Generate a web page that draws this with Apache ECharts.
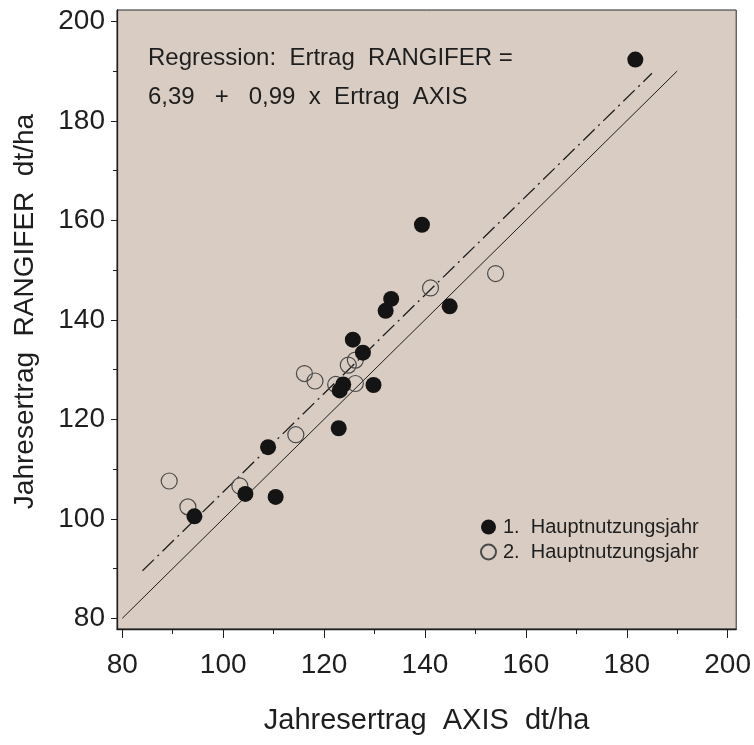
<!DOCTYPE html>
<html><head><meta charset="utf-8">
<script src="https://cdn.jsdelivr.net/npm/echarts@6/dist/echarts.min.js"></script>
<style>html,body{margin:0;padding:0;background:#fff}#c{width:754px;height:745px}</style>
</head><body><div id="c"></div>
<script>
// Data
const xTicks = [80, 100, 120, 140, 160, 180, 200];
const yTicks = [80, 100, 120, 140, 160, 180, 200];
const xMinor = [90, 110, 130, 150, 170, 190];
const yMinor = [90, 110, 130, 150, 170, 190];
const year1X = [181.7, 139.4, 133.3, 132.2, 125.7, 127.7, 144.9, 123.8, 123.1, 129.8, 122.9, 108.9, 104.4, 110.4, 94.3];
const year1Y = [192.3, 159.1, 144.2, 141.8, 136.0, 133.4, 142.7, 127.0, 125.8, 126.9, 118.2, 114.4, 105.0, 104.4, 100.5];
const year2X = [154.0, 141.1, 126.2, 124.8, 116.1, 118.2, 122.3, 126.2, 114.4, 89.3, 93.0, 103.3];
const year2Y = [149.3, 146.4, 131.9, 130.9, 129.2, 127.7, 127.0, 127.2, 116.9, 107.6, 102.4, 106.6];
const identityX = [80, 190];
const regIntercept = 6.39, regSlope = 0.99;
const regX = [84, 185];
const seriesNames = ['1.  Hauptnutzungsjahr', '2.  Hauptnutzungsjahr'];
const xTitle = 'Jahresertrag  AXIS  dt/ha';
const yTitle = 'Jahresertrag  RANGIFER  dt/ha';
const note1 = 'Regression:  Ertrag  RANGIFER =';
const note2 = '6,39   +   0,99  x  Ertrag  AXIS';

const FONT = '"Liberation Sans", Arial, sans-serif';
const INK = '#1e1e1e';
const xr = [78.95, 201.7], yr = [77.85, 202.27];

const pairs = (xs, ys) => xs.map((x, i) => [x, ys[i]]);
const chart = echarts.init(document.getElementById('c'), null, {renderer: 'canvas'});

function xAxisBase(extra) {
  return Object.assign({
    type: 'value', min: xr[0], max: xr[1], gridIndex: 0, position: 'bottom',
    splitLine: {show: false},
    axisLine: {show: true, lineStyle: {color: INK, width: 1.3}},
  }, extra);
}
function yAxisBase(extra) {
  return Object.assign({
    type: 'value', min: yr[0], max: yr[1], gridIndex: 0, position: 'left',
    splitLine: {show: false},
    axisLine: {show: true, lineStyle: {color: INK, width: 1.3}},
  }, extra);
}

chart.setOption({
  animation: false,
  backgroundColor: '#ffffff',
  textStyle: {fontFamily: FONT},
  grid: {left: 117, right: 17, top: 10, bottom: 116, show: true,
         backgroundColor: '#d9cdc3', borderColor: '#2a2a2a', borderWidth: 1},
  xAxis: [
    xAxisBase({
      name: xTitle, nameLocation: 'middle', nameGap: 77,
      nameTextStyle: {fontSize: 29, color: INK, fontFamily: FONT},
      axisTick: {show: true, inside: false, length: 9, customValues: xTicks, lineStyle: {color: INK, width: 1}},
      axisLabel: {show: true, customValues: xTicks, margin: 22, fontSize: 28, color: INK, fontFamily: FONT,
                  formatter: v => String(Math.round(v))}
    }),
    xAxisBase({
      axisLine: {show: false},
      axisTick: {show: true, inside: false, length: 5, customValues: xMinor, lineStyle: {color: INK, width: 1}},
      axisLabel: {show: false}
    })
  ],
  yAxis: [
    yAxisBase({
      name: yTitle, nameLocation: 'middle', nameGap: 78, nameRotate: 90,
      nameTextStyle: {fontSize: 28, color: INK, fontFamily: FONT, padding: [0, 0, 0, 16]},
      axisTick: {show: true, inside: false, length: 6, customValues: yTicks, lineStyle: {color: INK, width: 1}},
      axisLabel: {show: true, customValues: yTicks, margin: 12, fontSize: 28, color: INK, fontFamily: FONT,
                  formatter: v => String(Math.round(v))}
    }),
    yAxisBase({
      axisLine: {show: false},
      axisTick: {show: true, inside: false, length: 4, customValues: yMinor, lineStyle: {color: INK, width: 1}},
      axisLabel: {show: false}
    })
  ],
  legend: {
    orient: 'vertical', left: 475, top: 512, itemGap: 5,
    itemWidth: 15, itemHeight: 15,
    textStyle: {fontSize: 20, color: INK, fontFamily: FONT, padding: [0, 0, 0, 2]},
    data: seriesNames
  },
  graphic: [
    {type: 'text', left: 148, top: 46, silent: true,
     style: {text: note1, font: '24px ' + FONT, fill: INK}},
    {type: 'text', left: 148, top: 85, silent: true,
     style: {text: note2, font: '24px ' + FONT, fill: INK}}
  ],
  series: [
    {type: 'line', name: 'identity', xAxisIndex: 0, yAxisIndex: 0, showSymbol: false, symbol: 'none',
     data: identityX.map(x => [x, x]), lineStyle: {color: INK, width: 1}, silent: true, z: 2},
    {type: 'line', name: 'regression', xAxisIndex: 0, yAxisIndex: 0, showSymbol: false, symbol: 'none',
     data: regX.map(x => [x, regIntercept + regSlope * x]),
     lineStyle: {color: INK, width: 1.3, type: [16, 5, 2, 5]}, silent: true, z: 2},
    {type: 'scatter', name: seriesNames[1], xAxisIndex: 0, yAxisIndex: 0, symbol: 'circle', symbolSize: 16,
     data: pairs(year2X, year2Y),
     itemStyle: {color: 'rgba(0,0,0,0)', borderColor: '#4a4a4a', borderWidth: 1.2, opacity: 1}, z: 3},
    {type: 'scatter', name: seriesNames[0], xAxisIndex: 0, yAxisIndex: 0, symbol: 'circle', symbolSize: 16,
     data: pairs(year1X, year1Y),
     itemStyle: {color: '#141414', opacity: 1}, z: 4}
  ]
});
</script>
</body></html>
